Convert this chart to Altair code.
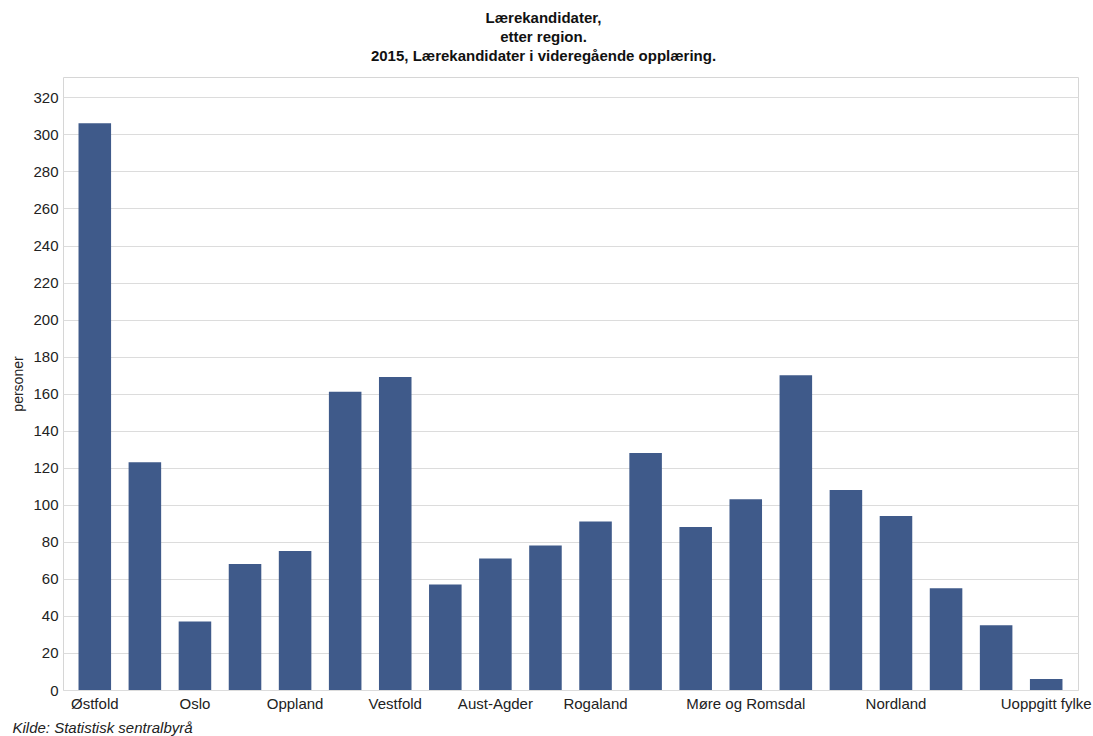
import altair as alt
import pandas as pd

regions = ["Østfold", "Akershus", "Oslo", "Hedmark", "Oppland", "Buskerud",
           "Vestfold", "Telemark", "Aust-Agder", "Vest-Agder", "Rogaland",
           "Hordaland", "Sogn og Fjordane", "Møre og Romsdal", "Sør-Trøndelag",
           "Nord-Trøndelag", "Nordland", "Troms", "Finnmark", "Uoppgitt fylke"]
values = [306, 123, 37, 68, 75, 161, 169, 57, 71, 78, 91, 128, 88, 103, 170,
          108, 94, 55, 35, 6]
shown_labels = ["Østfold", "Oslo", "Oppland", "Vestfold", "Aust-Agder",
                "Rogaland", "Møre og Romsdal", "Nordland", "Uoppgitt fylke"]
y_ticks = list(range(0, 321, 20))

df = pd.DataFrame({"region": regions, "personer": values})

label_list = "[" + ",".join("'" + s + "'" for s in shown_labels) + "]"

chart = alt.Chart(df).mark_bar(color="#3f5a8a").encode(
    x=alt.X("region:N", sort=regions,
            scale=alt.Scale(paddingInner=0.35, paddingOuter=0.31),
            axis=alt.Axis(title="Kilde: Statistisk sentralbyrå",
                          titleFontStyle="italic", titleFontWeight="normal",
                          titleFontSize=15, titleColor="#222",
                          titleAnchor="start", titleAlign="left",
                          titleX=-51, titleY=42, titleBaseline="alphabetic",
                          labelAngle=0, labelFontSize=15, labelColor="#222",
                          labelPadding=6, labelOverlap=False, labelBound=False,
                          labelFlush=False,
                          labelExpr="indexof(" + label_list + ", datum.label) >= 0 ? datum.label : ''",
                          ticks=False, domain=False, grid=False)),
    y=alt.Y("personer:Q",
            scale=alt.Scale(domain=[0, 331], nice=False),
            axis=alt.Axis(values=y_ticks, title="personer", titleFontSize=14,
                          titleFontWeight="normal", titleColor="#222",
                          titleX=-45, titleY=306.5, titleAngle=270,
                          titleAlign="center", titleBaseline="middle",
                          labelFontSize=15, labelColor="#222", labelPadding=5,
                          ticks=False, domain=False, gridColor="#dcdcdc",
                          gridWidth=1)),
).properties(
    width=1015, height=613,
    padding={"left": 63, "top": 77, "right": 15, "bottom": 46},
    autosize=alt.AutoSizeParams(type="none"),
    title=alt.TitleParams(
        ["Lærekandidater,", "etter region.", "2015, Lærekandidater i videregående opplæring."],
        fontSize=15, fontWeight="bold", color="#111", lineHeight=19,
        anchor="middle", frame="group", dx=-27, offset=13),
).configure(
    font="Liberation Sans",
).configure_view(
    stroke="#d6d6d6", strokeWidth=1,
)

chart.save("out.html", embed_options={"renderer": "svg", "actions": False})
